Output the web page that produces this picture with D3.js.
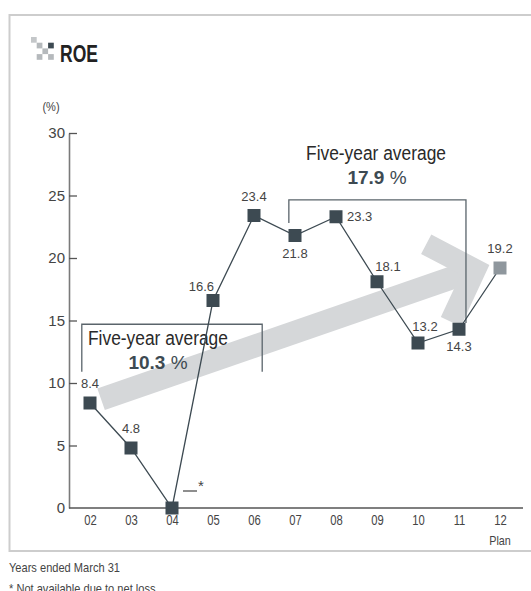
<!DOCTYPE html>
<html>
<head>
<meta charset="utf-8">
<script src="https://cdn.jsdelivr.net/npm/d3@7/dist/d3.min.js"></script>
<style>
  body { margin: 0; background: #fff; }
  svg { display: block; }
  text { font-family: "Liberation Sans", Arial, Helvetica, sans-serif; }
</style>
</head>
<body>
<div id="chart"></div>
<script>
// ROE by fiscal year (years ended March 31), last one is the plan
const years = ['02', '03', '04', '05', '06', '07', '08', '09', '10', '11', '12'];
const roe = [8.4, 4.8, 0, 16.6, 23.4, 21.8, 23.3, 18.1, 13.2, 14.3, 19.2];
const roeLabels = ['8.4', '4.8', '', '16.6', '23.4', '21.8', '23.3', '18.1', '13.2', '14.3', '19.2'];
const labelSide = ['above', 'above', 'none', 'aboveLeft', 'above', 'below', 'right', 'aboveRight', 'aboveRight2', 'below', 'above'];
const isPlan = [false, false, false, false, false, false, false, false, false, false, true];
const yTicks = [0, 5, 10, 15, 20, 25, 30];

// five-year averages
const avgPeriods = [['02', '06'], ['07', '11']];
const avgValues = [10.3, 17.9];

const W = 531, H = 591;
const dark = '#3d4a52';
const textCol = '#444';

// squeeze a text horizontally (no condensed font is installed)
function condense(sel, k) {
    sel.each(function () {
        const w = this.getComputedTextLength();
        this.setAttribute('textLength', (w * k).toFixed(1));
        this.setAttribute('lengthAdjust', 'spacingAndGlyphs');
    });
    return sel;
}

const svg = d3.select('#chart').append('svg')
    .attr('width', W)
    .attr('height', H);

// frame
svg.append('path')
    .attr('d', 'M531,15 H9.5 V551 H531')
    .attr('fill', 'none')
    .attr('stroke', '#cdcdcd')
    .attr('stroke-width', 2);

// title icon + title
const icon = svg.append('g').attr('transform', 'translate(31,37)');
const cells = [[0, 0, '#c4c7c9'], [1, 1, '#b5b9bc'], [3, 1, '#3d4a52'], [2, 2, '#b5b9bc'], [1, 3, '#b5b9bc'], [3, 3, '#b5b9bc']];
icon.selectAll('rect').data(cells).join('rect')
    .attr('x', d => d[0] * 5.7)
    .attr('y', d => d[1] * 5.7)
    .attr('width', 5.7)
    .attr('height', 5.7)
    .attr('fill', d => d[2]);

condense(svg.append('text')
    .attr('x', 60)
    .attr('y', 62)
    .attr('font-size', 23)
    .attr('font-weight', 'bold')
    .attr('fill', '#222')
    .text('ROE'), 0.76);

condense(svg.append('text')
    .attr('x', 51)
    .attr('y', 111)
    .attr('text-anchor', 'middle')
    .attr('font-size', 13)
    .attr('fill', textCol)
    .text('(%)'), 0.85);

// scales
const x = d3.scalePoint().domain(years).range([90, 500]);
const xi = d3.scaleLinear().domain([0, years.length - 1]).range([90, 500]);
const y = d3.scaleLinear().domain([0, 30]).range([508, 133]);

// big trend arrow (drawn in data space, behind everything)
const arrowShaft = [[0.27, 8.7], [9.39, 19.05]];
const arrowHead = [[8.2, 21.1], [9.39, 19.05], [8.8, 14.9]];
const arrowLine = d3.line().x(d => xi(d[0])).y(d => y(d[1]));
const arrow = svg.append('g');
arrow.append('path')
    .attr('d', arrowLine(arrowShaft))
    .attr('fill', 'none')
    .attr('stroke', '#d5d7d9')
    .attr('stroke-width', 23);
arrow.append('path')
    .attr('d', arrowLine(arrowHead))
    .attr('fill', 'none')
    .attr('stroke', '#d5d7d9')
    .attr('stroke-width', 22)
    .attr('stroke-linejoin', 'miter');

// y axis
const yAxis = svg.append('g')
    .attr('transform', 'translate(69,0)')
    .call(d3.axisLeft(y).tickValues(yTicks).tickSizeInner(-8).tickSizeOuter(0).tickPadding(4));
yAxis.attr('font-family', null);
yAxis.select('.domain').attr('stroke', '#7a7a7a').attr('stroke-width', 1.6);
yAxis.selectAll('.tick line').attr('stroke', '#555').attr('stroke-width', 1.3);
yAxis.selectAll('.tick text')
    .attr('font-size', 15)
    .attr('fill', textCol);
yAxis.selectAll('.tick').filter(d => d === 0).select('line').remove();

// x axis
svg.append('line')
    .attr('x1', 69).attr('x2', 523)
    .attr('y1', y(0)).attr('y2', y(0))
    .attr('stroke', '#555')
    .attr('stroke-width', 1.5);
const xAxis = svg.append('g')
    .attr('transform', `translate(0,${y(0)})`)
    .call(d3.axisBottom(x).tickSize(0).tickPadding(7));
xAxis.attr('font-family', null);
xAxis.select('.domain').remove();
condense(xAxis.selectAll('.tick text')
    .attr('font-size', 14)
    .attr('fill', textCol), 0.8);
condense(svg.append('text')
    .attr('x', x('12'))
    .attr('y', 545)
    .attr('text-anchor', 'middle')
    .attr('font-size', 13.5)
    .attr('fill', textCol)
    .text('Plan'), 0.8);

// five-year average brackets
const brackets = [
    { x0: -0.2, x1: 4.2, top: 14.7, leftEnd: 10.9, rightEnd: 10.9 },
    { x0: 4.85, x1: 9.17, top: 24.65, leftEnd: 22.8, rightEnd: 14.8 }
];
brackets.forEach(b => {
    svg.append('path')
        .attr('d', `M${xi(b.x0)},${y(b.leftEnd)} V${y(b.top)} H${xi(b.x1)} V${y(b.rightEnd)}`)
        .attr('fill', 'none')
        .attr('stroke', '#5a646b')
        .attr('stroke-width', 1.3);
});

const avgText = [
    { tx: 88, anchor: 'start', ty: 345, vx: 158, vy: 369 },
    { tx: 376, anchor: 'middle', ty: 160, vx: 377, vy: 184 }
];
avgValues.forEach((v, i) => {
    const p = avgText[i];
    condense(svg.append('text')
        .attr('x', p.tx).attr('y', p.ty)
        .attr('text-anchor', p.anchor)
        .attr('font-size', 19.5)
        .attr('fill', '#2a2a2a')
        .text('Five-year average'), 0.89);
    const t = svg.append('text')
        .attr('x', p.vx).attr('y', p.vy)
        .attr('text-anchor', 'middle')
        .attr('font-size', 19)
        .attr('fill', dark);
    t.append('tspan').attr('font-weight', 'bold').text(v.toFixed(1));
    t.append('tspan').text(' %');
});

// line + markers
const pts = years.map((yr, i) => ({ yr, v: roe[i], label: roeLabels[i], side: labelSide[i], plan: isPlan[i] }));
svg.append('path')
    .datum(pts)
    .attr('d', d3.line().x(d => x(d.yr)).y(d => y(d.v)))
    .attr('fill', 'none')
    .attr('stroke', dark)
    .attr('stroke-width', 1.3);

svg.selectAll('.marker').data(pts).join('rect')
    .attr('class', 'marker')
    .attr('x', d => x(d.yr) - 6.5)
    .attr('y', d => y(d.v) - 6.5)
    .attr('width', 13)
    .attr('height', 13)
    .attr('fill', d => d.plan ? '#8f979d' : dark);

// value labels
const offsets = {
    above: [0, -15, 'middle'],
    below: [0, 22, 'middle'],
    aboveLeft: [1, -10, 'end'],
    right: [11, 4.5, 'start'],
    aboveRight: [11, -11, 'middle'],
    aboveRight2: [7, -12, 'middle']
};
svg.selectAll('.vlabel').data(pts.filter(d => d.side !== 'none')).join('text')
    .attr('class', 'vlabel')
    .attr('x', d => x(d.yr) + offsets[d.side][0])
    .attr('y', d => y(d.v) + offsets[d.side][1])
    .attr('text-anchor', d => offsets[d.side][2])
    .attr('font-size', 13)
    .attr('fill', textCol)
    .text(d => d.label);

// "not available" mark for 04
svg.append('line')
    .attr('x1', x('04') + 11).attr('x2', x('04') + 25)
    .attr('y1', y(0) - 17).attr('y2', y(0) - 17)
    .attr('stroke', textCol)
    .attr('stroke-width', 1.2);
svg.append('text')
    .attr('x', x('04') + 29)
    .attr('y', y(0) - 17)
    .attr('text-anchor', 'middle')
    .attr('font-size', 15)
    .attr('fill', textCol)
    .text('*');

// footnotes
condense(svg.append('text')
    .attr('x', 9).attr('y', 572)
    .attr('font-size', 13.5)
    .attr('fill', textCol)
    .text('Years ended March 31'), 0.82);
condense(svg.append('text')
    .attr('x', 9).attr('y', 593)
    .attr('font-size', 13.5)
    .attr('fill', textCol)
    .text('* Not available due to net loss'), 0.82);
</script>
</body>
</html>
